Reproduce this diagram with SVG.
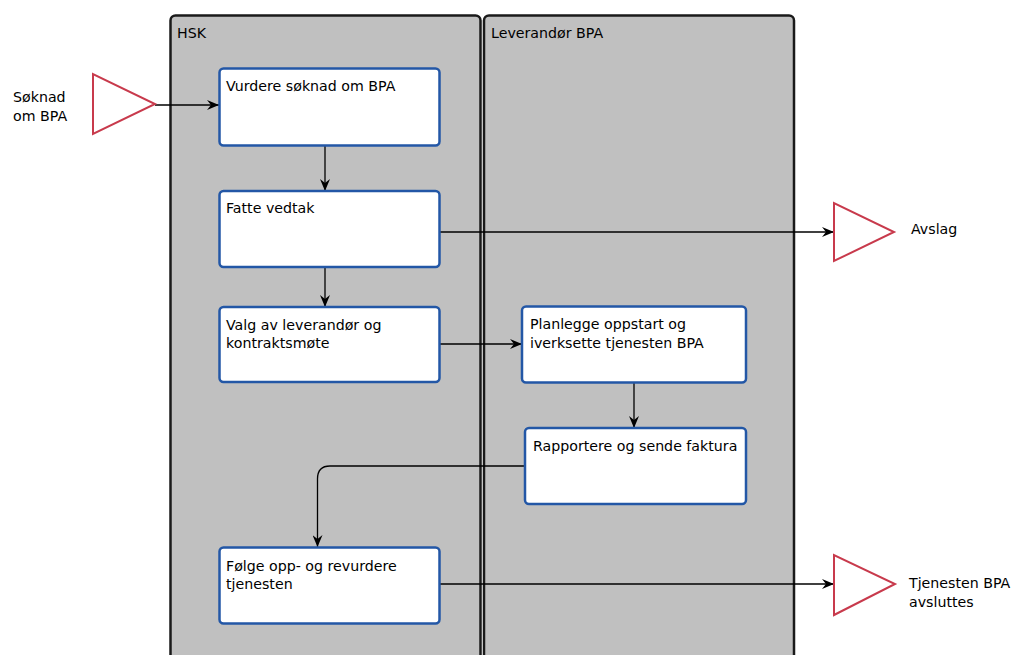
<svg xmlns="http://www.w3.org/2000/svg" width="1014" height="655" viewBox="0 0 1014 655">
<defs>
<style>
.lane{fill:#c0c0c0;stroke:#1a1a1a;stroke-width:2.5}
.box{fill:#fff;stroke:#2357a6;stroke-width:2.5}
.tri{fill:#fff;stroke:#c83a4c;stroke-width:2}
.conn{fill:none;stroke:#000;stroke-width:1.3}
text{font-family:"DejaVu Sans","Liberation Sans",sans-serif;font-size:14.2px;fill:#000}
</style>
<marker id="ah" viewBox="0 0 12 10" refX="12" refY="5" markerWidth="12" markerHeight="10" markerUnits="userSpaceOnUse" orient="auto">
<path d="M0,0 L12,5 L0,10 L4,5 z" fill="#000"/>
</marker>
</defs>
<rect width="1014" height="655" fill="#fff"/>
<g id="lane-hsk">
<rect class="lane" x="170.5" y="15.5" width="310" height="660" rx="5"/>
<text x="177" y="38">HSK</text>
</g>
<g id="lane-lev">
<rect class="lane" x="484" y="15.5" width="310" height="660" rx="5"/>
<text x="491" y="38">Leverandør BPA</text>
</g>
<g id="connectors">
<path class="conn" d="M155,105 H219" marker-end="url(#ah)"/>
<path class="conn" d="M325,145 V191" marker-end="url(#ah)"/>
<path class="conn" d="M439,232 H834" marker-end="url(#ah)"/>
<path class="conn" d="M325,267 V307" marker-end="url(#ah)"/>
<path class="conn" d="M439,344 H522" marker-end="url(#ah)"/>
<path class="conn" d="M634,383 V428" marker-end="url(#ah)"/>
<path class="conn" d="M525,466 H330 Q317.5,466 317.5,479 V547" marker-end="url(#ah)"/>
<path class="conn" d="M439,584 H834" marker-end="url(#ah)"/>
</g>
<g id="start">
<polygon class="tri" points="93,74 93,134 155,104"/>
<text x="13" y="102">Søknad</text>
<text x="13" y="121">om BPA</text>
</g>
<g id="n1">
<rect class="box" x="219.5" y="68.5" width="220" height="77" rx="4"/>
<text x="226" y="91">Vurdere søknad om BPA</text>
</g>
<g id="n2">
<rect class="box" x="219.5" y="191" width="220" height="76" rx="4"/>
<text x="226" y="213">Fatte vedtak</text>
</g>
<g id="n3">
<rect class="box" x="219.5" y="307" width="220" height="75" rx="4"/>
<text x="226" y="330">Valg av leverandør og</text>
<text x="226" y="348">kontraktsmøte</text>
</g>
<g id="n4">
<rect class="box" x="522" y="306.5" width="224" height="76" rx="4"/>
<text x="530" y="329">Planlegge oppstart og</text>
<text x="530" y="348">iverksette tjenesten BPA</text>
</g>
<g id="n5">
<rect class="box" x="525" y="428" width="221" height="76" rx="4"/>
<text x="533" y="451">Rapportere og sende faktura</text>
</g>
<g id="n6">
<rect class="box" x="219.5" y="547.5" width="220" height="76" rx="4"/>
<text x="226" y="571">Følge opp- og revurdere</text>
<text x="226" y="589">tjenesten</text>
</g>
<g id="avslag">
<polygon class="tri" points="834,203 834,261 894,232"/>
<text x="911" y="234">Avslag</text>
</g>
<g id="slutt">
<polygon class="tri" points="834,555 834,615 895,584"/>
<text x="909" y="588">Tjenesten BPA</text>
<text x="909" y="607">avsluttes</text>
</g>
</svg>
